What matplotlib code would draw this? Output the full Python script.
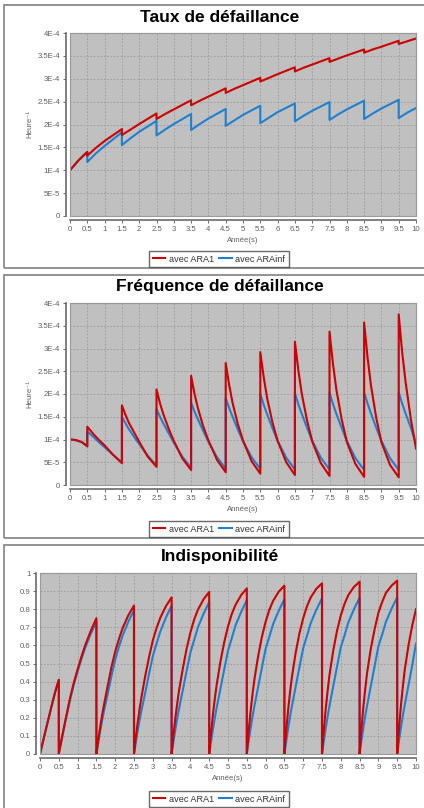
import matplotlib
matplotlib.use('Agg')
import matplotlib.pyplot as plt
from matplotlib.patches import Rectangle
from matplotlib.lines import Line2D

plt.rcParams['font.family'] = ['Liberation Sans', 'DejaVu Sans']

ROUGE = '#cc0000'
BLEU = '#2080d0'
FOND = '#c0c0c0'

# debut de chaque periode (annees)
debuts = [0, 0.5, 1.5, 2.5, 3.5, 4.5, 5.5, 6.5, 7.5, 8.5, 9.5]

# Taux de defaillance (x 1E-4 /h), releves a 0, 0.25, 0.5, 1.0 an dans chaque periode
grille_taux = [0, 0.25, 0.5, 1.0]
taux_ara1 = [
    [1.00, 1.22, 1.40],
    [1.32, 1.49, 1.64, 1.90],
    [1.77, 1.89, 2.01, 2.24],
    [2.12, 2.23, 2.33, 2.53],
    [2.42, 2.52, 2.61, 2.79],
    [2.69, 2.78, 2.86, 3.02],
    [2.94, 3.02, 3.10, 3.25],
    [3.16, 3.24, 3.31, 3.45],
    [3.37, 3.44, 3.51, 3.64],
    [3.57, 3.64, 3.70, 3.83],
    [3.76, 3.82, 3.88],
]
taux_arainf = [
    [1.00, 1.22, 1.40],
    [1.18, 1.37, 1.53, 1.83],
    [1.55, 1.70, 1.84, 2.08],
    [1.76, 1.89, 2.01, 2.23],
    [1.88, 2.01, 2.13, 2.34],
    [1.97, 2.09, 2.21, 2.41],
    [2.03, 2.15, 2.27, 2.46],
    [2.07, 2.19, 2.30, 2.49],
    [2.10, 2.22, 2.33, 2.52],
    [2.12, 2.24, 2.35, 2.54],
    [2.14, 2.26, 2.36],
]

# Frequence de defaillance (x 1E-4 /h)
grille_freq = [0, 0.1, 0.2, 0.35, 0.5, 0.75, 1.0]
freq_ara1 = [
    [1.00, 0.995, 0.98, 0.94, 0.85],
    [1.28, 1.19, 1.10, 0.98, 0.87, 0.66, 0.48],
    [1.75, 1.55, 1.37, 1.16, 0.95, 0.62, 0.40],
    [2.10, 1.80, 1.55, 1.24, 0.97, 0.58, 0.33],
    [2.40, 2.00, 1.68, 1.29, 0.98, 0.55, 0.28],
    [2.68, 2.20, 1.80, 1.34, 0.98, 0.52, 0.25],
    [2.92, 2.36, 1.90, 1.38, 0.97, 0.50, 0.22],
    [3.15, 2.52, 2.00, 1.42, 0.96, 0.48, 0.20],
    [3.37, 2.66, 2.09, 1.45, 0.95, 0.46, 0.18],
    [3.57, 2.80, 2.18, 1.48, 0.94, 0.44, 0.17],
    [3.75, 2.92, 2.26, 1.45, 0.80],
]
freq_arainf = [
    [1.00, 0.995, 0.98, 0.94, 0.85],
    [1.18, 1.11, 1.04, 0.93, 0.83, 0.66, 0.50],
    [1.50, 1.36, 1.23, 1.06, 0.90, 0.64, 0.43],
    [1.67, 1.50, 1.35, 1.14, 0.93, 0.62, 0.38],
    [1.81, 1.61, 1.44, 1.19, 0.95, 0.61, 0.36],
    [1.91, 1.69, 1.50, 1.22, 0.96, 0.61, 0.35],
    [2.00, 1.76, 1.55, 1.25, 0.97, 0.60, 0.34],
    [2.02, 1.77, 1.56, 1.26, 0.97, 0.60, 0.34],
    [2.03, 1.78, 1.56, 1.26, 0.97, 0.59, 0.33],
    [2.04, 1.79, 1.57, 1.26, 0.97, 0.59, 0.33],
    [2.04, 1.79, 1.57, 1.26, 0.92],
]

# Indisponibilite
grille_indispo = [0, 0.05, 0.1, 0.15, 0.2, 0.3, 0.4, 0.5, 0.6, 0.7, 0.85, 1.0]
indispo_ara1 = [
    [0, 0.043, 0.087, 0.13, 0.173, 0.258, 0.34, 0.41],
    [0, 0.055, 0.108, 0.16, 0.21, 0.31, 0.395, 0.468, 0.536, 0.60, 0.68, 0.75],
    [0, 0.078, 0.148, 0.213, 0.27, 0.377, 0.48, 0.566, 0.636, 0.697, 0.767, 0.82],
    [0, 0.095, 0.177, 0.251, 0.316, 0.433, 0.536, 0.627, 0.696, 0.753, 0.817, 0.865],
    [0, 0.107, 0.20, 0.28, 0.354, 0.474, 0.582, 0.671, 0.743, 0.797, 0.855, 0.895],
    [0, 0.119, 0.22, 0.307, 0.384, 0.512, 0.618, 0.705, 0.773, 0.824, 0.878, 0.915],
    [0, 0.126, 0.234, 0.327, 0.409, 0.539, 0.646, 0.73, 0.797, 0.846, 0.897, 0.93],
    [0, 0.132, 0.245, 0.341, 0.426, 0.56, 0.667, 0.75, 0.816, 0.865, 0.913, 0.943],
    [0, 0.136, 0.252, 0.35, 0.438, 0.573, 0.681, 0.766, 0.83, 0.878, 0.923, 0.952],
    [0, 0.14, 0.26, 0.36, 0.45, 0.584, 0.69, 0.78, 0.84, 0.89, 0.93, 0.958],
    [0, 0.145, 0.27, 0.372, 0.465, 0.60, 0.71, 0.80],
]
indispo_arainf = [
    [0, 0.043, 0.087, 0.13, 0.173, 0.258, 0.34, 0.41],
    [0, 0.053, 0.104, 0.155, 0.204, 0.30, 0.384, 0.455, 0.523, 0.585, 0.664, 0.73],
    [0, 0.064, 0.125, 0.183, 0.235, 0.33, 0.43, 0.52, 0.592, 0.656, 0.731, 0.795],
    [0, 0.066, 0.129, 0.189, 0.242, 0.34, 0.443, 0.54, 0.611, 0.677, 0.754, 0.82],
    [0, 0.069, 0.134, 0.196, 0.252, 0.355, 0.46, 0.56, 0.63, 0.70, 0.775, 0.84],
    [0, 0.07, 0.137, 0.20, 0.257, 0.362, 0.468, 0.57, 0.64, 0.71, 0.785, 0.85],
    [0, 0.072, 0.14, 0.204, 0.262, 0.368, 0.475, 0.58, 0.648, 0.718, 0.792, 0.855],
    [0, 0.073, 0.142, 0.207, 0.265, 0.372, 0.48, 0.585, 0.653, 0.723, 0.797, 0.86],
    [0, 0.074, 0.143, 0.208, 0.267, 0.375, 0.483, 0.59, 0.656, 0.727, 0.80, 0.863],
    [0, 0.075, 0.144, 0.21, 0.268, 0.377, 0.486, 0.595, 0.66, 0.73, 0.803, 0.865],
    [0, 0.076, 0.146, 0.212, 0.27, 0.38, 0.49, 0.61],
]

annees = [i * 0.5 for i in range(21)]
etiq_annees = ['0', '0.5', '1', '1.5', '2', '2.5', '3', '3.5', '4', '4.5', '5',
               '5.5', '6', '6.5', '7', '7.5', '8', '8.5', '9', '9.5', '10']
graduations_e4 = [0, 0.5, 1, 1.5, 2, 2.5, 3, 3.5, 4]
etiq_e4 = ['0', '5E-5', '1E-4', '1.5E-4', '2E-4', '2.5E-4', '3E-4', '3.5E-4', '4E-4']
graduations_ind = [i / 10 for i in range(11)]
etiq_ind = ['0', '0.1', '0.2', '0.3', '0.4', '0.5', '0.6', '0.7', '0.8', '0.9', '1']

W, H = 424, 808
fig = plt.figure(figsize=(W / 100, H / 100), dpi=100)


def serie(grille, valeurs):
    t, y = [], []
    for d, v in zip(debuts, valeurs):
        t += [d + o for o in grille[:len(v)]]
        y += v
    return t, y


def axe(gauche, haut, droite, bas):
    return fig.add_axes([gauche / W, 1 - bas / H, (droite - gauche) / W, (bas - haut) / H])


def cadre(haut, bas):
    fig.add_artist(Rectangle((4 / W, 1 - bas / H), 1, (bas - haut) / H,
                             transform=fig.transFigure, fill=False,
                             ec='#8a8a8a', lw=1.3))


def panneau(titre, y_titre, boite, grille, rouge, bleu, yticks, ylabels, ylim, ylabel, y_leg):
    ax = axe(*boite)
    ax.set_facecolor(FOND)
    tb, yb = serie(grille, bleu)
    tr, yr = serie(grille, rouge)
    ax.plot(tb, yb, color=BLEU, lw=1.5, zorder=3)
    ax.plot(tr, yr, color=ROUGE, lw=1.5, zorder=4)
    ax.set_xlim(0, 10)
    ax.set_ylim(*ylim)
    ax.set_xticks(annees)
    ax.set_xticklabels(etiq_annees)
    ax.set_yticks(yticks)
    ax.set_yticklabels(ylabels)
    ax.grid(True, color='#9a9a9a', lw=0.6, ls=(0, (2, 2)))
    ax.set_axisbelow(True)
    for s in ['top', 'right']:
        ax.spines[s].set_color('#9a9a9a')
        ax.spines[s].set_linewidth(0.8)
    for s in ['left', 'bottom']:
        ax.spines[s].set_position(('outward', 3))
        ax.spines[s].set_color('#6a6a6a')
        ax.spines[s].set_linewidth(1.2)
    ax.tick_params(length=2, width=0.7, color='#6a6a6a', labelsize=5.6,
                   labelcolor='#606060', pad=2)
    # bordure du fond de trace
    ax.add_patch(Rectangle((0, 0), 1, 1, transform=ax.transAxes, fill=False,
                           ec='#9a9a9a', lw=0.8, zorder=5, clip_on=False))
    ax.set_xlabel('Année(s)', fontsize=5.6, color='#606060', labelpad=3)
    if ylabel:
        ax.set_ylabel(ylabel, fontsize=5.6, color='#606060', labelpad=3)
    fig.text(220 / W, 1 - y_titre / H, titre, ha='center', va='center',
             fontsize=12.5, fontweight='bold')
    poignees = [Line2D([], [], color=ROUGE, lw=1.5), Line2D([], [], color=BLEU, lw=1.5)]
    leg = fig.legend(poignees, ['avec ARA1', 'avec ARAinf'], loc='center',
                     bbox_to_anchor=(219 / W, 1 - y_leg / H), ncol=2,
                     fontsize=6.6, frameon=True, fancybox=False, edgecolor='#444444',
                     handlelength=1.4, handletextpad=0.4, columnspacing=0.5,
                     borderpad=0.35, borderaxespad=0)
    leg.get_frame().set_linewidth(1.0)
    for txt in leg.get_texts():
        txt.set_color('#333333')
    return ax


cadre(5, 268)
panneau('Taux de défaillance', 17, (70, 33, 416, 216), grille_taux,
        taux_ara1, taux_arainf, graduations_e4, etiq_e4, (0, 4), 'Heure⁻¹', 259)

cadre(275, 538)
panneau('Fréquence de défaillance', 287, (70, 303, 416, 485), grille_freq,
        freq_ara1, freq_arainf, graduations_e4, etiq_e4, (0, 4), 'Heure⁻¹', 529)

cadre(545, 812)
panneau('Indisponibilité', 557, (40, 573, 416, 754), grille_indispo,
        indispo_ara1, indispo_arainf, graduations_ind, etiq_ind, (0, 1), None, 799)

fig.savefig('out.png', dpi=100)
